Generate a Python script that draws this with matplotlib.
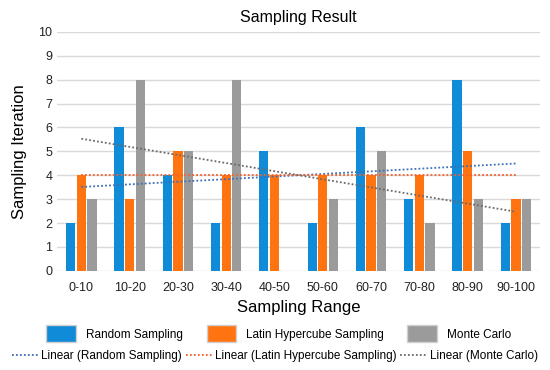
import numpy as np
import matplotlib
matplotlib.use('Agg')
import matplotlib.pyplot as plt
from matplotlib.patches import Patch
from matplotlib.lines import Line2D

ranges = ['0-10', '10-20', '20-30', '30-40', '40-50', '50-60', '60-70', '70-80', '80-90', '90-100']
randomSampling = [2, 6, 4, 2, 5, 2, 6, 3, 8, 2]
latinHypercube = [4, 3, 5, 4, 4, 4, 4, 4, 5, 3]
monteCarlo = [3, 8, 5, 8, 0, 3, 5, 2, 3, 3]
seriesNames = ['Random Sampling', 'Latin Hypercube Sampling', 'Monte Carlo']

barColors = ['#0f8bd8', '#ff7410', '#9b9b9b']
trendColors = ['#3f6fb5', '#f5602a', '#6a6a6a']

plt.rcParams['font.family'] = ['Liberation Sans', 'DejaVu Sans']

fig = plt.figure(figsize=(5.5, 3.7), dpi=100)
ax = fig.add_axes([0.104, 0.268, 0.878, 0.646])

x = np.arange(len(ranges))
width = 0.19
offset = 0.22
allSeries = [randomSampling, latinHypercube, monteCarlo]
for i in range(3):
    ax.bar(x + (i - 1) * offset, allSeries[i], width, color=barColors[i], zorder=2)

# linear trendlines, Excel style
for i in range(3):
    coef = np.polyfit(x + 1, allSeries[i], 1)
    ax.plot(x, np.polyval(coef, x + 1), linestyle=(0, (1, 1.2)), color=trendColors[i],
            linewidth=1.3, zorder=3)

ax.set_ylim(0, 10)
ax.set_yticks(range(11))
ax.set_xlim(-0.5, len(ranges) - 0.5)
ax.set_xticks(x)
ax.set_xticklabels(ranges)
ax.tick_params(length=0, labelsize=9, colors='#222222')
ax.tick_params(axis='x', pad=8)
ax.grid(axis='y', color='#d9d9d9', linewidth=1, zorder=0)
for s in ax.spines.values():
    s.set_visible(False)

ax.set_title('Sampling Result', fontsize=11.5, pad=7)
ax.set_xlabel('Sampling Range', fontsize=12, labelpad=4)
ax.set_ylabel('Sampling Iteration', fontsize=12, labelpad=8)

patchHandles = [Patch(facecolor=barColors[i], edgecolor='#d0d0d0') for i in range(3)]
fig.legend(patchHandles, seriesNames, loc='center', bbox_to_anchor=(0.507, 0.098), ncol=3,
           frameon=False, fontsize=8.5, handlelength=2.5, handleheight=1.9,
           columnspacing=2.0, handletextpad=0.85)
lineHandles = [Line2D([0], [0], color=trendColors[i], linestyle=(0, (1, 1.2)), linewidth=1.3)
               for i in range(3)]
fig.legend(lineHandles, ['Linear (' + n + ')' for n in seriesNames], loc='center',
           bbox_to_anchor=(0.5, 0.038), ncol=3, frameon=False, fontsize=8.5,
           handlelength=2.2, columnspacing=0.3, handletextpad=0.3)

fig.savefig('out.png', dpi=100)
